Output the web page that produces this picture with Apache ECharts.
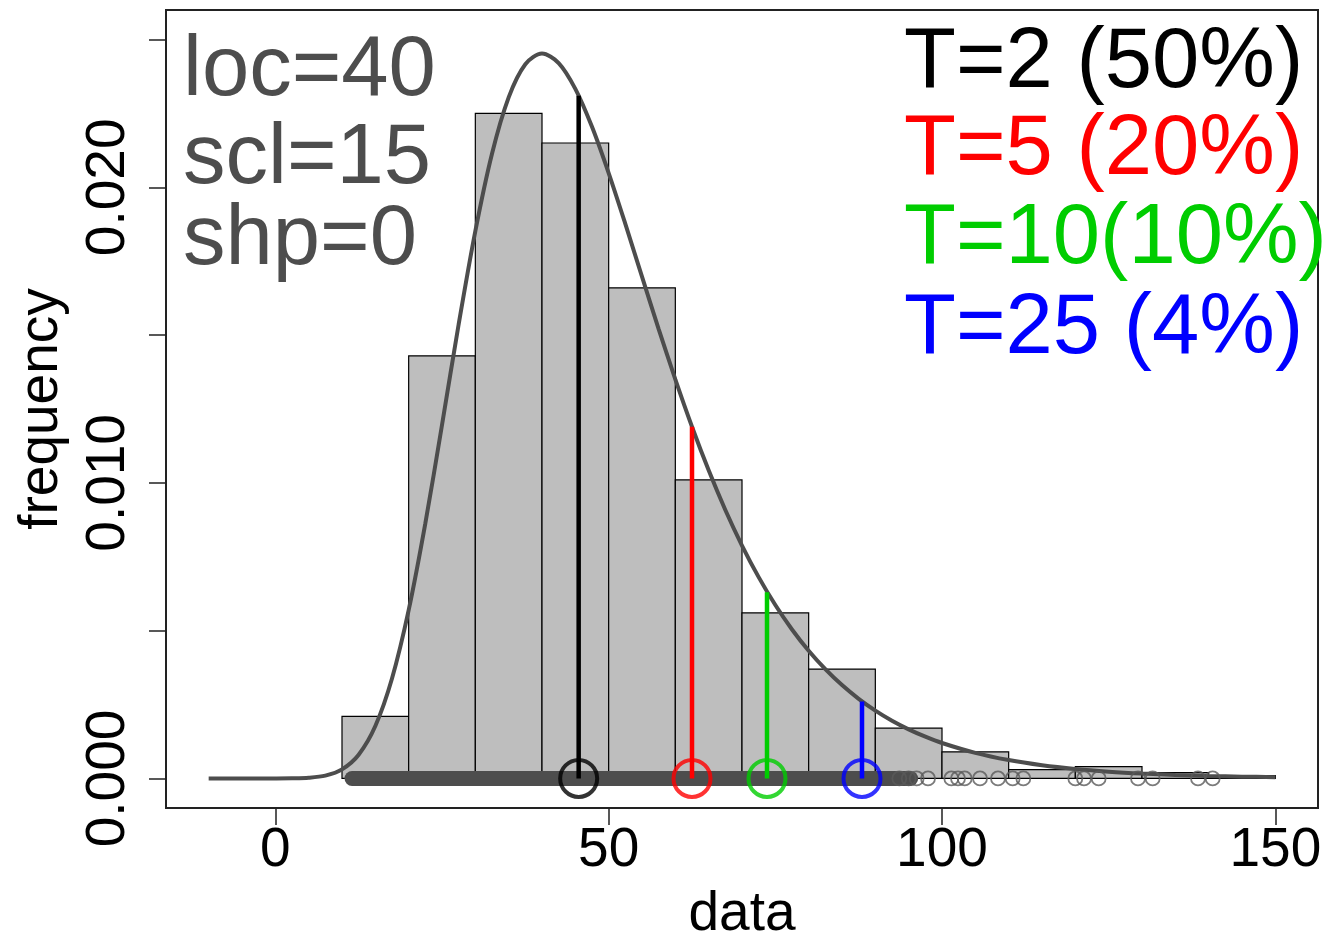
<!DOCTYPE html>
<html><head><meta charset="utf-8">
<script src="https://cdn.jsdelivr.net/npm/echarts@6/dist/echarts.min.js"></script>
<style>html,body{margin:0;padding:0;background:#fff}#c{width:1336px;height:941px}</style>
</head><body><div id="c"></div>
<script>
// ---- data ----
const binStart = [10, 20, 30, 40, 50, 60, 70, 80, 90, 100, 110, 120, 130, 140];
const binWidth = 10;
const density = [0.0021, 0.0143, 0.0225, 0.0215, 0.0166, 0.0101, 0.0056, 0.0037, 0.0017, 0.0009, 0.0003, 0.0004, 0.0002, 0.0001];

const curveX = [-10, -5, 0, 2.5, 5, 7.5, 10, 12.5, 15, 17.5, 20, 22.5, 25, 27.5, 30, 32.5, 35, 37.5, 40, 42.5, 45, 47.5, 50, 52.5, 55, 57.5, 60, 62.5, 65, 67.5, 70, 72.5, 75, 77.5, 80, 82.5, 85, 87.5, 90, 92.5, 95, 97.5, 100, 105, 110, 115, 120, 125, 130, 135, 140, 145, 150];
const curveY = [0, 0, 0.0000005, 0.0000042, 0.0000229, 0.000094, 0.000305, 0.000802, 0.001772, 0.00338, 0.005693, 0.008628, 0.011958, 0.015366, 0.018517, 0.021137, 0.023045, 0.024167, 0.024525, 0.024206, 0.023333, 0.022047, 0.020483, 0.018763, 0.016976, 0.015205, 0.013502, 0.0119, 0.010425, 0.009084, 0.007881, 0.006811, 0.005867, 0.005041, 0.004321, 0.003697, 0.003158, 0.002694, 0.002295, 0.001953, 0.001661, 0.001412, 0.001199, 0.000864, 0.000621, 0.000446, 0.00032, 0.00023, 0.000165, 0.000118, 0.000085, 0.000061, 0.000044];

const rugBand = [11.5, 95.3];          // range where data points overlap into a solid band
const rugPoints = [93.6, 95.0, 96.2, 97.9, 101.4, 102.4, 103.4, 105.7, 108.4, 110.6, 112.2, 120.0, 121.3, 123.5, 129.4, 131.6, 138.4, 140.6];

const rlX = [45.5, 62.5, 73.75, 88.0];
const rlY = [0.0231, 0.0119, 0.0063, 0.0026];
const rlColors = ['#000000', '#FF0000', '#00CD00', '#0000FF'];
const rlLabels = ['T=2 (50%)', 'T=5 (20%)', 'T=10(10%)', 'T=25 (4%)'];
const paramLabels = ['loc=40', 'scl=15', 'shp=0'];

const xTicks = [0, 50, 100, 150];
const yTicks = [0, 0.005, 0.01, 0.015, 0.02, 0.025];
const yLabelVals = [0, 0.01, 0.02];

// ---- chart ----
const FONT = '"Liberation Sans", Arial, Helvetica, sans-serif';
const chart = echarts.init(document.getElementById('c'), null, {renderer: 'canvas'});

const series = [];
series.push({
  type: 'custom',
  z: 1,
  data: binStart.map((s, i) => [s, s + binWidth, density[i]]),
  encode: {x: [0, 1], y: 2},
  renderItem: function (params, api) {
    const p0 = api.coord([api.value(0), api.value(2)]);
    const p1 = api.coord([api.value(1), 0]);
    return {
      type: 'rect',
      shape: {x: p0[0], y: p0[1], width: p1[0] - p0[0], height: p1[1] - p0[1]},
      style: {fill: '#BEBEBE', stroke: '#000', lineWidth: 1.2}
    };
  }
});
series.push({
  type: 'line', z: 2, showSymbol: false, smooth: 0.3,
  data: curveX.map((x, i) => [x, curveY[i]]),
  lineStyle: {color: '#4D4D4D', width: 4}
});
series.push({
  type: 'line', z: 3, showSymbol: false,
  data: rugBand.map(x => [x, 0]),
  lineStyle: {color: '#4D4D4D', width: 15, cap: 'round'}
});
series.push({
  type: 'scatter', z: 3, symbol: 'circle', symbolSize: 14,
  data: rugPoints.map(x => [x, 0]),
  itemStyle: {color: 'rgba(0,0,0,0)', borderColor: '#5A5A5A', borderWidth: 1.8}
});
rlX.forEach((x, i) => {
  series.push({
    type: 'line', z: 4, showSymbol: false,
    data: [[x, 0], [x, rlY[i]]],
    lineStyle: {color: rlColors[i], width: 4.5}
  });
  series.push({
    type: 'scatter', z: 5, symbol: 'circle', symbolSize: 37,
    data: [[x, 0]],
    itemStyle: {color: 'rgba(0,0,0,0)', borderColor: rlColors[i], borderWidth: 4}
  });
});

const graphic = [];
const paramTops = [29, 117, 198];
paramLabels.forEach((t, i) => graphic.push({
  type: 'text', left: 183, top: paramTops[i], z: 10,
  style: {text: t, font: '85px ' + FONT, fill: '#4D4D4D'}
}));
const legTops = [21, 108, 197, 287];
rlLabels.forEach((t, i) => graphic.push({
  type: 'text', left: 904, top: legTops[i], z: 10,
  style: {text: t, font: '85px ' + FONT, fill: rlColors[i]}
}));

chart.setOption({
  animation: false,
  backgroundColor: '#fff',
  grid: {left: 166, right: 18, top: 10, bottom: 133, show: true, borderColor: '#222', borderWidth: 2,
    backgroundColor: 'transparent', containLabel: false, outerBoundsMode: 'none'},
  xAxis: {
    type: 'value', min: -16.4, max: 156.4,
    name: 'data', nameLocation: 'middle', nameGap: 79,
    nameTextStyle: {fontSize: 55, fontFamily: FONT, color: '#000'},
    axisLine: {show: false, onZero: false},
    splitLine: {show: false},
    axisTick: {show: true, length: 17, customValues: xTicks, lineStyle: {color: '#222', width: 1.5}},
    axisLabel: {customValues: xTicks, margin: 15, fontSize: 55, fontFamily: FONT, color: '#000'}
  },
  yAxis: {
    type: 'value', min: -0.001, max: 0.026,
    name: 'frequency', nameLocation: 'middle', nameGap: 97, nameRotate: 90,
    nameTextStyle: {fontSize: 55, fontFamily: FONT, color: '#000'},
    axisLine: {show: false, onZero: false},
    splitLine: {show: false},
    axisTick: {show: true, length: 17, customValues: yTicks, lineStyle: {color: '#222', width: 1.5}},
    axisLabel: {customValues: yLabelVals, rotate: 90, margin: 30, fontSize: 55, fontFamily: FONT, color: '#000',
      formatter: v => v.toFixed(3)}
  },
  series: series,
  graphic: graphic
});
</script>
</body></html>
